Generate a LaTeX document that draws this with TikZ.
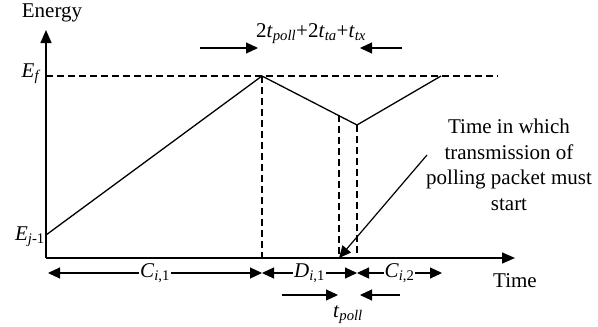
\documentclass[tikz,border=0pt]{standalone}
\usepackage{fontspec}
\setmainfont{Liberation Serif}
\usetikzlibrary{arrows.meta,positioning}

\tikzset{
  axis/.style={line width=1.5pt, -{Triangle[length=13pt,width=11pt]}},
  curve/.style={line width=1.3pt},
  guide/.style={line width=1.2pt, dash pattern=on 7pt off 4pt},
  dimarrow/.style={line width=1.2pt, -{Triangle[length=12pt,width=11pt]}},
  dimboth/.style={line width=1.2pt, {Triangle[length=12pt,width=11pt]}-{Triangle[length=12pt,width=11pt]}},
  lbl/.style={font=\fontsize{21}{25.5}\selectfont, inner sep=1pt},
}
\newcommand{\vv}[1]{\textit{#1}}

\begin{document}
\begin{tikzpicture}[x=1pt,y=-1pt]
\useasboundingbox (0,0) rectangle (598,327);
% key points (pixel grid of the plot)
\coordinate (origin) at (46,258);
\coordinate (ytop) at (46,30);
\coordinate (xend) at (515,258);
\coordinate (start) at (46,235);
\coordinate (peak) at (262,76);
\coordinate (valley) at (357,125);
\coordinate (refill) at (441,76);
\coordinate (efl) at (46,76);
\coordinate (efr) at (498,76);
\coordinate (txstart) at (339,258);

% axes
\draw[axis] (origin) -- (ytop);
\draw[axis] (origin) -- (xend);
\node[lbl] (energy) at (52,13) {Energy};
\node[lbl] (time) at (515,281) {Time};
\node[lbl, anchor=east] (ef) at (42,74) {\vv{E}\textsubscript{\vv{f}}};
\node[lbl, anchor=east] (ej) at (46,237) {\vv{E}\textsubscript{\vv{j}-1}};

% energy curve
\draw[guide] (efl) -- (efr);
\draw[curve] (start) -- (peak) -- (valley) -- (refill);
\draw[guide] (peak) -- (peak |- origin);
\draw[guide] (valley) -- (valley |- origin);
\draw[guide] (txstart |- 0,115) -- (txstart);

% interval arrows on the time axis
\coordinate (c1a) at (48,273);
\coordinate (c1b) at (262,273);
\coordinate (d1b) at (357,273);
\coordinate (c2b) at (442,273);
\draw[dimboth] (c1a) -- node[lbl, fill=white] (ci1) {\vv{C}\textsubscript{\vv{i},1}} (c1b);
\draw[dimboth] (c1b) -- node[lbl, fill=white] (di1) {\vv{D}\textsubscript{\vv{i},1}} (d1b);
\draw[dimboth] (d1b) -- node[lbl, fill=white] (ci2) {\vv{C}\textsubscript{\vv{i},2}} (c2b);

% t_poll window
\coordinate (pa) at (282,295);
\coordinate (pb) at (338,295);
\coordinate (pc) at (400,295);
\coordinate (pd) at (360,295);
\draw[dimarrow] (pa) -- (pb);
\draw[dimarrow] (pc) -- (pd);
\node[lbl] (tpoll) at (348,315) {\vv{t}\textsubscript{\vv{poll}}};

% guard window at the top
\coordinate (ga) at (200,48);
\coordinate (gb) at (258,48);
\coordinate (gc) at (402,48);
\coordinate (gd) at (360,48);
\draw[dimarrow] (ga) -- (gb);
\draw[dimarrow] (gc) -- (gd);
\node[lbl] (guard) at (311,34) {2\vv{t}\textsubscript{\vv{poll}}+2\vv{t}\textsubscript{\vv{ta}}+\vv{t}\textsubscript{\vv{tx}}};

% note
\node[lbl, align=center] (note) at (509,165) {Time in which\\transmission of\\polling packet must\\start};
\coordinate (ptr) at (427,155);
\draw[dimarrow] (ptr) -- (txstart);
\end{tikzpicture}
\end{document}
